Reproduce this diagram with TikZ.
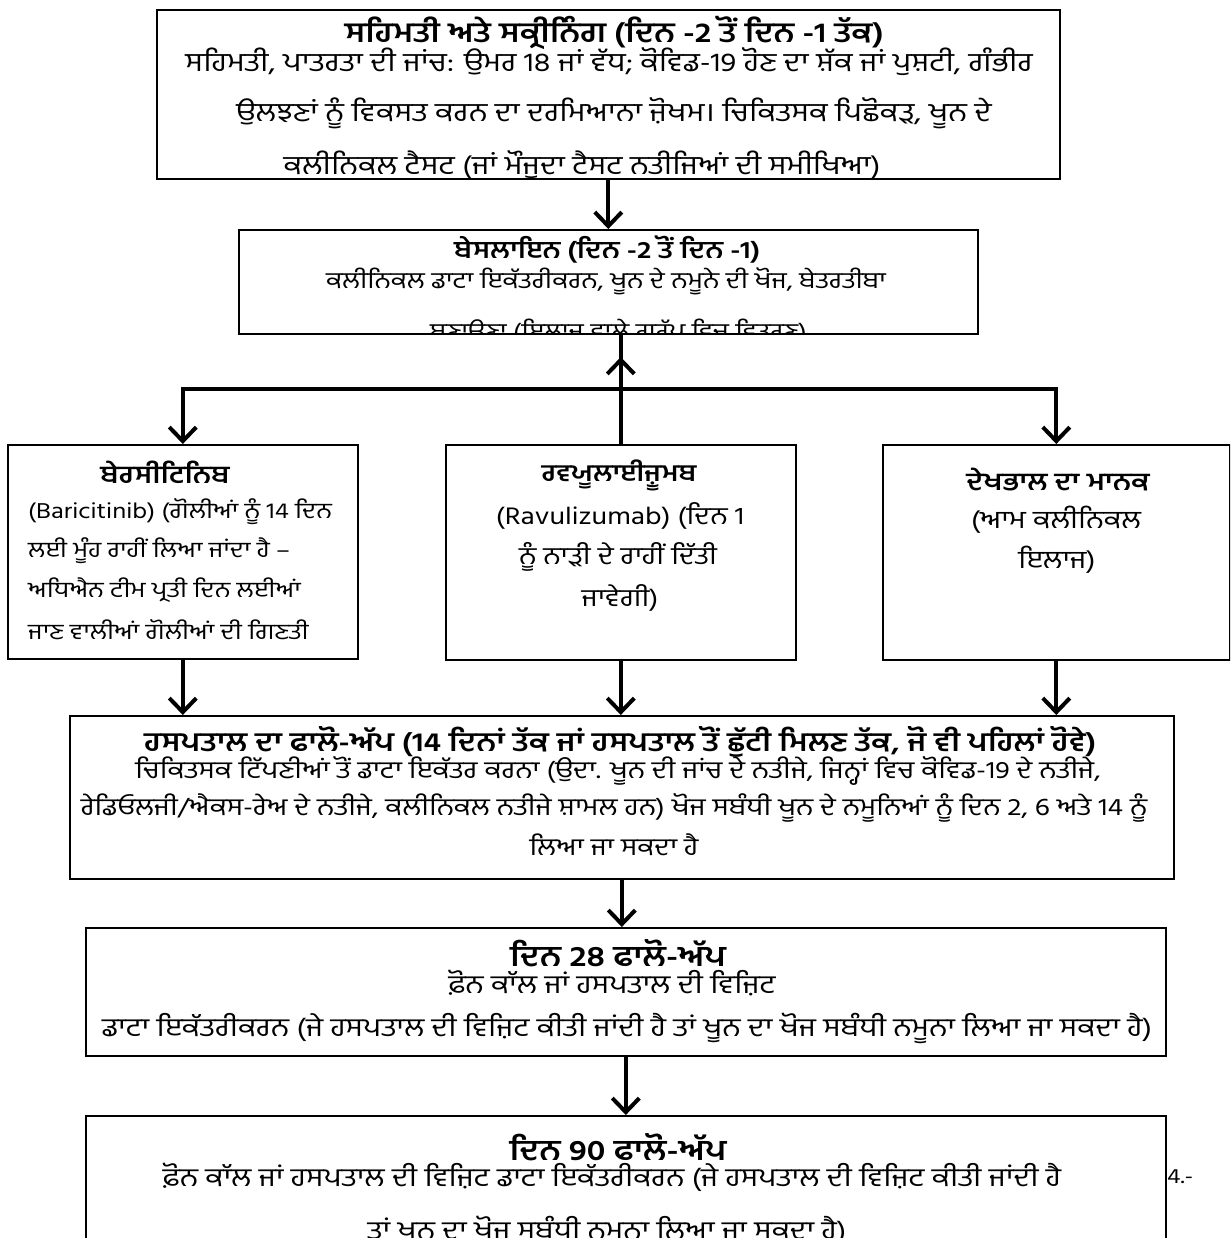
\documentclass[tikz,border=0pt]{standalone}
\usepackage{fontspec}
\setmainfont[Script=Gurmukhi, FakeStretch=1.18]{Hind Jalandhar}
\usetikzlibrary{arrows.meta}
\begin{document}
\begin{tikzpicture}[x=1pt,y=-1pt,
  box/.style={draw, line width=1.6pt, inner sep=0pt, anchor=north west},
  ttl/.style={font=\fontsize{#1}{#1}\selectfont\bfseries, inner sep=0pt},
  txt/.style={font=\fontsize{#1}{#1}\selectfont, inner sep=0pt},
  conn/.style={line width=4pt},
  arr/.style={line width=4pt, line join=miter, -{Straight Barb[length=14pt,width=27pt]}},
]
\useasboundingbox (0,0) rectangle (1230,1238);
\clip (0,0) rectangle (1230,1238);
\fill[white] (0,0) rectangle (1230,1238);

% ---- boxes
\node[box, minimum width=903pt, minimum height=169pt] (b1) at (156,9) {};
\node[box, minimum width=739pt, minimum height=104pt] (b2) at (238,229) {};
\node[box, minimum width=350pt, minimum height=214pt] (bar) at (7,444) {};
\node[box, minimum width=350pt, minimum height=215pt] (rav) at (445,444) {};
\node[box, minimum width=347pt, minimum height=215pt] (soc) at (882,444) {};
\node[box, minimum width=1104pt, minimum height=163pt] (hosp) at (69,715) {};
\node[box, minimum width=1080pt, minimum height=128pt] (d28) at (85,927) {};
\node[box, minimum width=1080pt, minimum height=160pt] (d90) at (85,1115) {};

% ---- box 1
\node[ttl=28] (b1t) at (614,33) {ਸਹਿਮਤੀ ਅਤੇ ਸਕ੍ਰੀਨਿੰਗ (ਦਿਨ -2 ਤੋਂ ਦਿਨ -1 ਤੱਕ)};
\node[txt=26.3] (b1l2) at (609,62) {ਸਹਿਮਤੀ, ਪਾਤਰਤਾ ਦੀ ਜਾਂਚ: ਉਮਰ 18 ਜਾਂ ਵੱਧ; ਕੋਵਿਡ-19 ਹੋਣ ਦਾ ਸ਼ੱਕ ਜਾਂ ਪੁਸ਼ਟੀ, ਗੰਭੀਰ};
\node[txt=26.3] (b1l3) at (614,113) {ਉਲਝਣਾਂ ਨੂੰ ਵਿਕਸਤ ਕਰਨ ਦਾ ਦਰਮਿਆਨਾ ਜ਼ੋਖਮ। ਚਿਕਿਤਸਕ ਪਿਛੋਕੜ, ਖੂਨ ਦੇ};
\begin{scope}
\clip (b1.north west) rectangle (b1.south east);
\node[txt=26.3] (b1l4) at (582,166) {ਕਲੀਨਿਕਲ ਟੈਸਟ (ਜਾਂ ਮੌਜੂਦਾ ਟੈਸਟ ਨਤੀਜਿਆਂ ਦੀ ਸਮੀਖਿਆ)};
\end{scope}

% ---- box 2
\node[ttl=24.2] (b2t) at (607,250) {ਬੇਸਲਾਇਨ (ਦਿਨ -2 ਤੋਂ ਦਿਨ -1)};
\node[txt=22.9] (b2l2) at (606,281) {ਕਲੀਨਿਕਲ ਡਾਟਾ ਇਕੱਤਰੀਕਰਨ, ਖੂਨ ਦੇ ਨਮੂਨੇ ਦੀ ਖੋਜ, ਬੇਤਰਤੀਬਾ};
\begin{scope}
\clip (b2.north west) rectangle (b2.south east);
\node[txt=22.9, anchor=west] (b2l3) at (430,331) {ਬਣਾਉਣਾ (ਇਲਾਜ ਵਾਲੇ ਗਰੁੱਪ ਵਿਚ ਵਿਤਰਣ)};
\end{scope}

% ---- row 3
\node[ttl=24.6] (bart) at (165,472) {ਬੇਰਸੀਟਿਨਿਬ};
\node[txt=22, anchor=west] (barl2) at (28,512) {(Baricitinib) (ਗੋਲੀਆਂ ਨੂੰ 14 ਦਿਨ};
\node[txt=22, anchor=west] (barl3) at (28,551) {ਲਈ ਮੂੰਹ ਰਾਹੀਂ ਲਿਆ ਜਾਂਦਾ ਹੈ –};
\node[txt=22, anchor=west] (barl4) at (28,590) {ਅਧਿਐਨ ਟੀਮ ਪ੍ਰਤੀ ਦਿਨ ਲਈਆਂ};
\node[txt=22, anchor=west] (barl5) at (28,630) {ਜਾਣ ਵਾਲੀਆਂ ਗੋਲੀਆਂ ਦੀ ਗਿਣਤੀ};

\node[ttl=23.7] (ravt) at (619,475) {ਰਵਯੂਲਾਈਜ਼ੂਮਬ};
\node[txt=24.5] (ravl2) at (620,516) {(Ravulizumab) (ਦਿਨ 1};
\node[txt=24.5] (ravl3) at (618,557) {ਨੂੰ ਨਾੜੀ ਦੇ ਰਾਹੀਂ ਦਿੱਤੀ};
\node[txt=24.5] (ravl4) at (620,598) {ਜਾਵੇਗੀ)};

\node[ttl=24.6] (soct) at (1058,480) {ਦੇਖਭਾਲ ਦਾ ਮਾਨਕ};
\node[txt=25] (socl2) at (1056,520) {(ਆਮ ਕਲੀਨਿਕਲ};
\node[txt=25] (socl3) at (1057,560) {ਇਲਾਜ)};

% ---- hospital
\node[ttl=26.7] (hospt) at (620,742) {ਹਸਪਤਾਲ ਦਾ ਫਾਲੋ-ਅੱਪ (14 ਦਿਨਾਂ ਤੱਕ ਜਾਂ ਹਸਪਤਾਲ ਤੋਂ ਛੁੱਟੀ ਮਿਲਣ ਤੱਕ, ਜੋ ਵੀ ਪਹਿਲਾਂ ਹੋਵੇ)};
\node[txt=24.2] (hospl2) at (618,771) {ਚਿਕਿਤਸਕ ਟਿੱਪਣੀਆਂ ਤੋਂ ਡਾਟਾ ਇਕੱਤਰ ਕਰਨਾ (ਉਦਾ. ਖੂਨ ਦੀ ਜਾਂਚ ਦੇ ਨਤੀਜੇ, ਜਿਨ੍ਹਾਂ ਵਿਚ ਕੋਵਿਡ-19 ਦੇ ਨਤੀਜੇ,};
\node[txt=24.2] (hospl3) at (614,808) {ਰੇਡਿਓਲਜੀ/ਐਕਸ-ਰੇਅ ਦੇ ਨਤੀਜੇ, ਕਲੀਨਿਕਲ ਨਤੀਜੇ ਸ਼ਾਮਲ ਹਨ) ਖੋਜ ਸਬੰਧੀ ਖੂਨ ਦੇ ਨਮੂਨਿਆਂ ਨੂੰ ਦਿਨ 2, 6 ਅਤੇ 14 ਨੂੰ};
\node[txt=24.2] (hospl4) at (614,845) {ਲਿਆ ਜਾ ਸਕਦਾ ਹੈ};

% ---- day 28
\node[ttl=28.8] (d28t) at (618,953) {ਦਿਨ 28 ਫਾਲੋ-ਅੱਪ};
\node[txt=25.8] (d28l2) at (612,983) {ਫ਼ੋਨ ਕਾੱਲ ਜਾਂ ਹਸਪਤਾਲ ਦੀ ਵਿਜ਼ਿਟ};
\node[txt=25.8] (d28l3) at (627,1028) {ਡਾਟਾ ਇਕੱਤਰੀਕਰਨ (ਜੇ ਹਸਪਤਾਲ ਦੀ ਵਿਜ਼ਿਟ ਕੀਤੀ ਜਾਂਦੀ ਹੈ ਤਾਂ ਖੂਨ ਦਾ ਖੋਜ ਸਬੰਧੀ ਨਮੂਨਾ ਲਿਆ ਜਾ ਸਕਦਾ ਹੈ)};

% ---- day 90
\node[ttl=28.8] (d90t) at (618,1147) {ਦਿਨ 90 ਫਾਲੋ-ਅੱਪ};
\node[txt=25.8] (d90l2) at (612,1177) {ਫ਼ੋਨ ਕਾੱਲ ਜਾਂ ਹਸਪਤਾਲ ਦੀ ਵਿਜ਼ਿਟ ਡਾਟਾ ਇਕੱਤਰੀਕਰਨ (ਜੇ ਹਸਪਤਾਲ ਦੀ ਵਿਜ਼ਿਟ ਕੀਤੀ ਜਾਂਦੀ ਹੈ};
\node[txt=25.8] (d90l3) at (607,1231) {ਤਾਂ ਖੂਨ ਦਾ ਖੋਜ ਸਬੰਧੀ ਨਮੂਨਾ ਲਿਆ ਜਾ ਸਕਦਾ ਹੈ)};
\node[txt=21, anchor=west] (pg) at (1167,1177) {4.-};

% ---- connectors
\coordinate (uptip) at (618,357);
\coordinate (hj) at (620,389);
\draw[arr] (b1.south) -- (b2.north);
\draw[conn] (rav.north) -- (rav.north |- b2.south);
\draw[arr] (rav.north) -- (rav.north |- uptip);
\draw[arr] (hj) -| (bar.north);
\draw[arr] (hj) -| (soc.north);
\draw[arr] (bar.south) -- (bar.south |- hosp.north);
\draw[arr] (rav.south) -- (rav.south |- hosp.north);
\draw[arr] (soc.south) -- (soc.south |- hosp.north);
\draw[arr] (hosp.south) -- (hosp.south |- d28.north);
\draw[arr] (d28.south) -- (d28.south |- d90.north);
\end{tikzpicture}
\end{document}
